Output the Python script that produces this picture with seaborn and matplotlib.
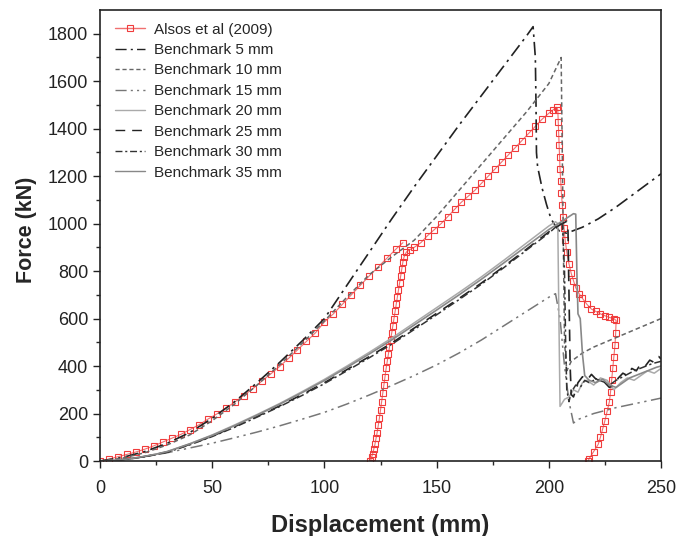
import numpy as np
import pandas as pd
import matplotlib.pyplot as plt
import seaborn as sns

sns.set_style('ticks')
plt.rcParams['font.family'] = ['Liberation Sans', 'DejaVu Sans']

# Alsos et al (2009) - two branches
alsos_a_x = [0, 4, 8, 12, 16, 20, 24, 28, 32, 36, 40, 44, 48, 52, 56, 60, 64, 68, 72, 76,
             80, 84, 88, 92, 96, 100, 104, 108, 112, 116, 120, 124, 128, 132, 135]
alsos_a_y = [0, 8, 18, 28, 38, 50, 64, 80, 96, 112, 132, 152, 176, 198, 222, 248, 276, 304, 336, 366,
             398, 432, 468, 504, 540, 586, 620, 660, 700, 740, 780, 818, 856, 894, 920]
alsos_b_x = [120.5, 121, 121.5, 122, 122.5, 123, 123.5, 124, 124.5, 125, 125.5, 126, 126.5, 127, 127.5,
             128, 128.5, 129, 129.5, 130, 130.5, 131, 131.5, 132, 132.5, 133, 133.5, 134, 134.5, 135,
             135.5, 136.5, 138, 140, 143, 146, 149, 152, 155, 158, 161, 164, 167, 170, 173, 176, 179,
             182, 185, 188, 191, 194, 197, 200, 202, 203.5, 204, 204.2, 204.4, 204.6, 204.8, 205,
             205.3, 205.6, 206, 206.4, 206.8, 207.3, 208, 209, 210, 211, 212, 213.5, 215, 217, 219,
             221, 223, 225, 227, 229, 230, 229.8, 229.5, 229, 228.5, 228, 227.5, 227, 226, 225, 224,
             223, 222, 220, 218, 217.5]
alsos_b_y = [0, 15, 30, 50, 70, 95, 120, 150, 180, 215, 250, 285, 320, 355, 390,
             420, 450, 480, 510, 540, 570, 600, 630, 660, 690, 720, 750, 780, 810, 840,
             860, 880, 890, 900, 920, 950, 975, 1000, 1030, 1060, 1090, 1115, 1140, 1170, 1200, 1230, 1260,
             1290, 1320, 1350, 1380, 1410, 1440, 1465, 1480, 1490, 1480, 1430, 1380, 1330, 1280, 1230,
             1180, 1130, 1080, 1030, 980, 930, 880, 830, 790, 760, 730, 705, 685, 660, 640,
             630, 620, 612, 605, 600, 592, 540, 490, 440, 390, 340, 290, 250, 210, 170, 135,
             100, 70, 40, 10, 0]

bm5_x = [0, 10, 20, 30, 40, 50, 60, 70, 80, 90, 100, 110, 120, 130, 140, 150, 160, 170, 180, 190,
         193, 194, 194.3, 194.5, 195, 197, 199, 201, 203, 205, 208, 215, 222, 230, 240, 250]
bm5_y = [0, 15, 40, 75, 120, 180, 250, 330, 415, 505, 600, 740, 880, 1020, 1155, 1285, 1415, 1540, 1665, 1790,
         1830, 1700, 1500, 1300, 1240, 1150, 1080, 1020, 990, 965, 960, 985, 1020, 1070, 1140, 1210]

bm10_x = [0, 10, 20, 30, 40, 50, 60, 70, 80, 90, 100, 110, 120, 130, 140, 150, 160, 170, 180, 190, 200,
          205.5, 206, 206.5, 207, 208, 210, 215, 220, 230, 240, 250]
bm10_y = [0, 12, 35, 68, 110, 170, 240, 320, 405, 495, 590, 690, 785, 860, 930, 1030, 1140, 1250, 1360, 1470, 1590,
          1700, 1300, 900, 500, 380, 420, 455, 480, 520, 560, 600]

bm15_x = [0, 10, 20, 30, 40, 50, 60, 70, 80, 90, 100, 110, 120, 130, 140, 150, 160, 170, 180, 190, 200, 203,
          205, 207, 209, 211, 213, 220, 230, 240, 250]
bm15_y = [0, 6, 18, 35, 55, 75, 98, 122, 148, 176, 205, 240, 278, 318, 360, 405, 455, 510, 570, 630, 690, 705,
          600, 400, 250, 160, 175, 200, 225, 245, 265]

bm20_x = [0, 5, 10, 15, 20, 25, 30, 40, 50, 60, 70, 80, 90, 100, 110, 120, 130, 140, 150, 160, 170, 180, 190, 200,
          203, 204, 204.5, 205, 207, 209, 211, 213, 215, 217, 220, 223, 226, 229, 232, 235, 238, 241, 244, 247, 250]
bm20_y = [0, 2, 6, 12, 20, 29, 40, 73, 110, 152, 196, 242, 292, 344, 400, 458, 518, 582, 646, 710, 776, 846, 918, 990,
          1008, 1000, 600, 230, 260, 270, 300, 290, 330, 340, 320, 350, 340, 300, 330, 350, 340, 360, 380, 370, 390]

bm25_x = [0, 5, 10, 15, 20, 25, 30, 40, 50, 60, 70, 80, 90, 100, 110, 120, 130, 140, 150, 160, 170, 180, 190, 200,
          205, 208, 208.5, 209, 209.5, 210, 211, 212, 213, 215, 217, 219, 221, 223, 225, 227, 229, 231, 233, 235,
          237, 239, 241, 243, 245, 247, 249, 250]
bm25_y = [0, 2, 6, 12, 19, 28, 38, 70, 105, 145, 188, 232, 280, 330, 385, 440, 497, 560, 622, 685, 750, 820, 892, 965,
          995, 1010, 1000, 700, 400, 280, 270, 300, 330, 355, 340, 365, 345, 350, 330, 310, 320, 350, 370, 360,
          390, 380, 410, 400, 425, 415, 440, 430]

bm30_x = [0, 5, 10, 15, 20, 25, 30, 40, 50, 60, 70, 80, 90, 100, 110, 120, 130, 140, 150, 160, 170, 180, 190, 200,
          206, 207, 207.5, 208, 209, 210, 212, 214, 216, 218, 221, 224, 227, 230, 234, 238, 242, 246, 250]
bm30_y = [0, 2, 5, 11, 18, 27, 37, 68, 103, 142, 185, 229, 276, 326, 380, 435, 492, 554, 616, 680, 745, 815, 888, 960,
          1010, 800, 500, 300, 250, 290, 320, 310, 340, 330, 345, 335, 320, 340, 360, 380, 395, 410, 420]

bm35_x = [0, 5, 10, 15, 20, 25, 30, 40, 50, 60, 70, 80, 90, 100, 110, 120, 130, 140, 150, 160, 170, 180, 190, 200,
          205, 211, 212, 212.5, 213, 214, 215, 216, 218, 221, 224, 227, 230, 233, 236, 240, 244, 248, 250]
bm35_y = [0, 2, 6, 12, 20, 29, 40, 72, 108, 149, 193, 239, 288, 339, 394, 451, 510, 573, 636, 700, 766, 835, 905, 975,
          1005, 1042, 1040, 800, 620, 600, 450, 360, 340, 330, 345, 320, 310, 330, 350, 365, 380, 395, 400]

fig = plt.figure(figsize=(6.79, 5.36), dpi=100)
ax = fig.add_axes([0.1473, 0.1399, 0.8262, 0.8414])

red = '#f03c3c'
alsos_kw = dict(color='#f07070', lw=0.8, marker='s', markersize=4.8, markerfacecolor='none',
                markeredgecolor=red, markeredgewidth=0.8)
sns.lineplot(x=alsos_a_x, y=alsos_a_y, sort=False, estimator=None, ax=ax, label='Alsos et al (2009)', **alsos_kw)
sns.lineplot(x=alsos_b_x, y=alsos_b_y, sort=False, estimator=None, ax=ax, label='_nolegend_', **alsos_kw)

series = [
    (bm5_x, bm5_y, 'Benchmark 5 mm', '#222222', (8, 3, 1.5, 3), 1.2),
    (bm10_x, bm10_y, 'Benchmark 10 mm', '#666666', (3, 2), 1.1),
    (bm15_x, bm15_y, 'Benchmark 15 mm', '#777777', (8, 3, 1.5, 3, 1.5, 3), 1.1),
    (bm20_x, bm20_y, 'Benchmark 20 mm', '#aaaaaa', None, 1.1),
    (bm25_x, bm25_y, 'Benchmark 25 mm', '#222222', (7, 5), 1.2),
    (bm30_x, bm30_y, 'Benchmark 30 mm', '#333333', (5, 2, 1.5, 2), 1.1),
    (bm35_x, bm35_y, 'Benchmark 35 mm', '#888888', None, 1.2),
]
for xs, ys, lab, col, dash, lw in series:
    l = sns.lineplot(x=xs, y=ys, sort=False, estimator=None, ax=ax, label=lab, color=col, lw=lw)
    if dash is not None:
        l.get_lines()[-1].set_dashes(dash)

ax.set_xlim(0, 250)
ax.set_ylim(0, 1900)
ax.set_xticks(np.arange(0, 251, 50))
ax.set_xticks(np.arange(25, 250, 50), minor=True)
ax.set_yticks(np.arange(0, 1801, 200))
ax.set_yticks(np.arange(100, 1900, 200), minor=True)
ax.tick_params(axis='both', which='major', direction='out', length=5, width=1, labelsize=13, colors='#222222')
ax.tick_params(axis='x', which='major', pad=9)
ax.tick_params(axis='both', which='minor', direction='out', length=3, width=1)
for s in ax.spines.values():
    s.set_visible(True)
    s.set_linewidth(1.2)
    s.set_color('#222222')

ax.set_xlabel('Displacement (mm)', fontsize=17, fontweight='bold', labelpad=12)
ax.set_ylabel('Force (kN)', fontsize=15.5, fontweight='bold')
ax.yaxis.set_label_coords(-0.112, 0.512)

leg = ax.legend(loc='upper left', bbox_to_anchor=(0.027, 0.972), frameon=False, fontsize=11,
                handlelength=1.96, labelspacing=0.42, handletextpad=0.6, borderpad=0, borderaxespad=0)
for h in leg.get_lines():
    h.set_linewidth(1.0)

fig.savefig('out.png', dpi=100)
